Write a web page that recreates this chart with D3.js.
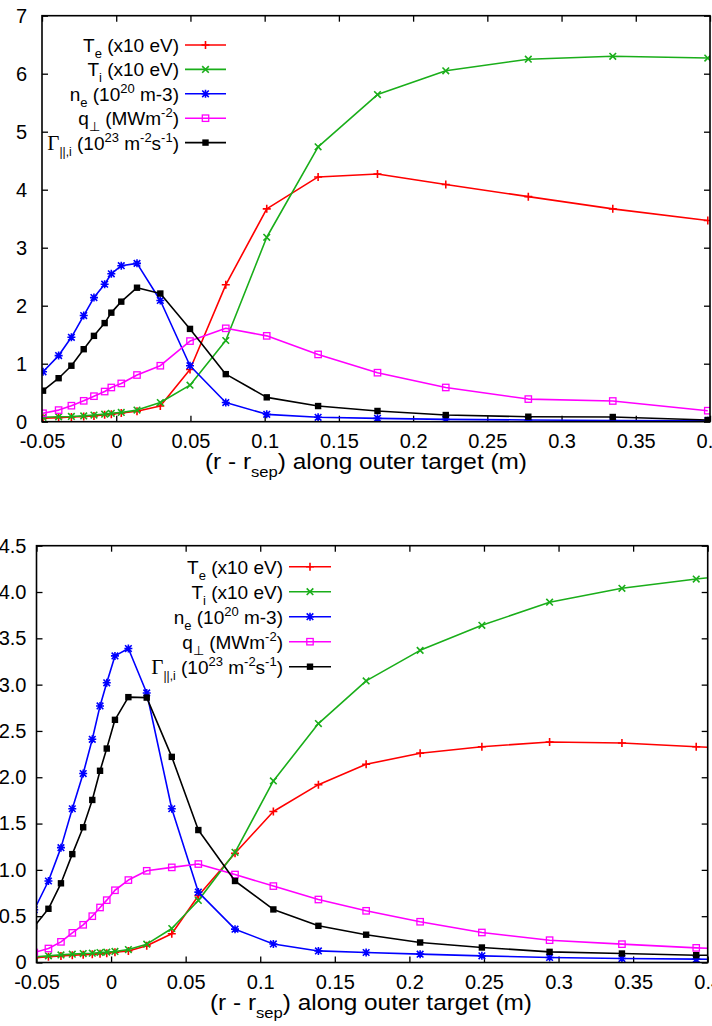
<!DOCTYPE html>
<html><head><meta charset="utf-8">
<script src="https://cdn.jsdelivr.net/npm/d3@7/dist/d3.min.js"></script>
<style>
body{margin:0;background:#fff;}
svg{display:block;font-family:"Liberation Sans",Arial,sans-serif;}
.axis text{font-size:20px;fill:#000;}
.axis line{stroke:#000;stroke-width:1.3;}
.axis path{display:none;}
</style></head>
<body><svg id="chart" width="712" height="1026"></svg>
<script>
// ---------- data: top panel ----------
const xTop = [-0.0493,-0.0388,-0.0302,-0.0219,-0.0150,-0.0078,-0.0033,0.0034,0.0140,0.0297,0.0497,0.0738,0.1014,0.1360,0.1760,0.2220,0.2776,0.3345,0.3985];
const teTop = [0.06,0.07,0.08,0.09,0.10,0.12,0.13,0.15,0.18,0.27,0.90,2.36,3.67,4.22,4.27,4.09,3.88,3.67,3.47];
const tiTop = [0.076,0.085,0.09,0.10,0.115,0.13,0.145,0.16,0.20,0.33,0.63,1.40,3.18,4.74,5.64,6.05,6.25,6.30,6.27];
const neTop = [0.86,1.14,1.455,1.83,2.14,2.37,2.55,2.69,2.73,2.09,0.965,0.33,0.127,0.076,0.058,0.04,0.03,0.02,0.015];
const qTop = [0.145,0.20,0.276,0.36,0.44,0.52,0.59,0.66,0.805,0.965,1.39,1.61,1.48,1.16,0.845,0.59,0.39,0.357,0.19];
const gTop = [0.535,0.75,0.965,1.25,1.48,1.70,1.88,2.07,2.31,2.21,1.60,0.82,0.42,0.27,0.185,0.115,0.086,0.081,0.03];
const yTicksTop = [0,1,2,3,4,5,6,7];

// ---------- data: bottom panel ----------
const xBot = [-0.0515,-0.042,-0.0336,-0.026,-0.0187,-0.0126,-0.0074,-0.0029,0.0026,0.0116,0.0239,0.0407,0.0585,0.0831,0.1088,0.139,0.171,0.2072,0.2486,0.294,0.3425,0.3923,0.44];
const teBot = [0.05,0.062,0.07,0.078,0.085,0.09,0.095,0.10,0.11,0.125,0.18,0.31,0.72,1.18,1.63,1.92,2.14,2.26,2.33,2.38,2.37,2.33,2.29];
const tiBot = [0.06,0.072,0.082,0.09,0.097,0.10,0.108,0.112,0.119,0.14,0.198,0.367,0.67,1.19,1.96,2.58,3.04,3.37,3.64,3.89,4.04,4.14,4.22];
const neBot = [0.57,0.88,1.24,1.66,2.04,2.41,2.77,3.02,3.31,3.39,2.91,1.66,0.76,0.36,0.20,0.125,0.108,0.09,0.072,0.054,0.043,0.036,0.03];
const qBot = [0.108,0.151,0.223,0.32,0.407,0.50,0.594,0.673,0.78,0.89,0.99,1.027,1.063,0.95,0.825,0.68,0.558,0.44,0.324,0.241,0.198,0.158,0.13];
const gBot = [0.39,0.58,0.855,1.17,1.46,1.755,2.07,2.31,2.62,2.865,2.86,2.22,1.43,0.88,0.573,0.396,0.30,0.216,0.162,0.115,0.097,0.079,0.07];
const yTicksBot = [0,0.5,1.0,1.5,2.0,2.5,3.0,3.5,4.0,4.5];
const yTickLabelsBot = ["0","0.5","1.0","1.5","2.0","2.5","3.0","3.5","4.0","4.5"];

const xTicks = [-0.05,0,0.05,0.1,0.15,0.2,0.25,0.3,0.35,0.4];
const xTickLabels = ["-0.05","0","0.05","0.1","0.15","0.2","0.25","0.3","0.35","0.4"];
const seriesKeys = ["te","ti","ne","q","g"];

// ---------- styles ----------
const colors = {te:"#ff0000", ti:"#1aae1a", ne:"#0000ff", q:"#ff00ff", g:"#000000"};
const markerType = {te:"plus", ti:"cross", ne:"star", q:"osq", g:"fsq"};

const svg = d3.select("#chart");

function markerPath(type){
  const s=4, c=3.3;
  if(type==="plus") return `M${-s},0H${s}M0,${-s}V${s}`;
  if(type==="cross") return `M${-c},${-c}L${c},${c}M${-c},${c}L${c},${-c}`;
  if(type==="star") return `M${-s},0H${s}M0,${-s}V${s}M${-c},${-c}L${c},${c}M${-c},${c}L${c},${-c}`;
  return null;
}
function drawMarker(g, type, x, y, color){
  if(type==="osq"){
    g.append("rect").attr("x",x-3.2).attr("y",y-3.2).attr("width",6.4).attr("height",6.4)
      .attr("fill","none").attr("stroke",color).attr("stroke-width",1.3);
  } else if(type==="fsq"){
    g.append("rect").attr("x",x-3.2).attr("y",y-3.2).attr("width",6.4).attr("height",6.4)
      .attr("fill",color);
  } else {
    g.append("path").attr("d",markerPath(type)).attr("transform",`translate(${x},${y})`)
      .attr("fill","none").attr("stroke",color).attr("stroke-width",1.6);
  }
}

function legendLabel(t, key){
  const sub = (s,fs)=>{ t.append("tspan").attr("dy",6).attr("font-size",fs||13).text(s); };
  const sup = (s)=>{ t.append("tspan").attr("dy",-8).attr("font-size",13).text(s); };
  const norm = (s,dy)=>{ t.append("tspan").attr("dy",dy).text(s); };
  if(key==="te"){ norm("T",0); sub("e"); norm(" (x10 eV)",-6); }
  if(key==="ti"){ norm("T",0); sub("i"); norm(" (x10 eV)",-6); }
  if(key==="ne"){ norm("n",0); sub("e"); norm(" (10",-6); sup("20"); norm(" m-3)",8); }
  if(key==="q"){ norm("q",0); sub("\u22A5"); norm(" (MWm",-6); sup("-2"); norm(")",8); }
  if(key==="g"){
    t.append("tspan").attr("font-family","'Liberation Serif',serif").attr("font-size",21).text("\u0393");
    sub("||,i",12); norm(" (10",-6); sup("23"); norm(" m",8); sup("-2"); norm("s",8); sup("-1"); norm(")",8);
  }
}

function panel(cfg){
  const x = d3.scaleLinear().domain([-0.05,0.4]).range([cfg.left,cfg.right]);
  const y = d3.scaleLinear().domain([0,cfg.ymax]).range([cfg.bottom,cfg.top]);
  const g = svg.append("g");
  const clipId = "clip"+cfg.id;
  svg.append("clipPath").attr("id",clipId).append("rect")
    .attr("x",cfg.left).attr("y",cfg.top).attr("width",cfg.right-cfg.left).attr("height",cfg.bottom-cfg.top);

  // axes with inward ticks
  g.append("g").attr("class","axis").attr("transform",`translate(0,${cfg.bottom})`)
    .call(d3.axisBottom(x).tickValues(xTicks).tickFormat((d,i)=>xTickLabels[i]).tickSizeInner(-6).tickSizeOuter(0).tickPadding(12));
  g.append("g").attr("class","axis").attr("transform",`translate(0,${cfg.top})`)
    .call(d3.axisTop(x).tickValues(xTicks).tickFormat("").tickSizeInner(-6).tickSizeOuter(0));
  g.append("g").attr("class","axis").attr("transform",`translate(${cfg.left},0)`)
    .call(d3.axisLeft(y).tickValues(cfg.yTicks).tickFormat((d,i)=>cfg.yLabels[i]).tickSizeInner(-6).tickSizeOuter(0).tickPadding(cfg.ypad));
  g.append("g").attr("class","axis").attr("transform",`translate(${cfg.right},0)`)
    .call(d3.axisRight(y).tickValues(cfg.yTicks).tickFormat("").tickSizeInner(-6).tickSizeOuter(0));

  // series
  const plot = g.append("g").attr("clip-path",`url(#${clipId})`);
  const line = d3.line().x(d=>x(d[0])).y(d=>y(d[1]));
  seriesKeys.forEach(k=>{
    const pts = cfg.xs.map((xv,i)=>[xv,cfg.data[k][i]]);
    plot.append("path").datum(pts).attr("d",line).attr("fill","none")
      .attr("stroke",colors[k]).attr("stroke-width",1.6).attr("stroke-linejoin","round");
    const mg = plot.append("g");
    pts.forEach(p=>drawMarker(mg, markerType[k], x(p[0]), y(p[1]), colors[k]));
  });

  // frame
  g.append("rect").attr("x",cfg.left).attr("y",cfg.top).attr("width",cfg.right-cfg.left)
    .attr("height",cfg.bottom-cfg.top).attr("fill","none").attr("stroke","#000").attr("stroke-width",1.6);

  // x axis title
  const t = g.append("text").attr("x",cfg.titleX).attr("y",cfg.titleY).attr("text-anchor","middle")
    .attr("font-size",22).attr("textLength",322).attr("lengthAdjust","spacingAndGlyphs");
  t.append("tspan").text("(r - r");
  t.append("tspan").attr("dy",8).attr("font-size",15).text("sep");
  t.append("tspan").attr("dy",-8).text(") along outer target (m)");

  // legend
  const lg = g.append("g");
  seriesKeys.forEach((k,i)=>{
    const yy = cfg.legY + i*cfg.legDy;
    const txt = lg.append("text").attr("x",cfg.legTextX).attr("y",yy+7).attr("text-anchor","end")
      .attr("font-size",19);
    legendLabel(txt,k);
    lg.append("line").attr("x1",cfg.legLine[0]).attr("x2",cfg.legLine[1]).attr("y1",yy).attr("y2",yy)
      .attr("stroke",colors[k]).attr("stroke-width",1.6);
    drawMarker(lg, markerType[k], (cfg.legLine[0]+cfg.legLine[1])/2, yy, colors[k]);
  });
}

panel({id:"top", left:42, right:710, top:15.7, bottom:421.7, ymax:7,
  yTicks:yTicksTop, yLabels:yTicksTop.map(String), ypad:15,
  xs:xTop, data:{te:teTop, ti:tiTop, ne:neTop, q:qTop, g:gTop},
  titleX:366, titleY:469,
  legY:45, legDy:24.4, legTextX:179, legLine:[185,226]});

panel({id:"bot", left:36.5, right:707.7, top:545.7, bottom:962.5, ymax:4.5,
  yTicks:yTicksBot, yLabels:yTickLabelsBot, ypad:10,
  xs:xBot, data:{te:teBot, ti:tiBot, ne:neBot, q:qBot, g:gBot},
  titleX:371, titleY:1010,
  legY:566.7, legDy:25, legTextX:283, legLine:[289,331]});
</script></body></html>
